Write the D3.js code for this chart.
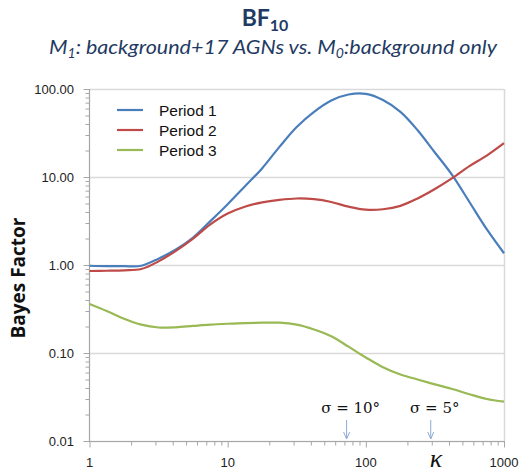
<!DOCTYPE html>
<html><head><meta charset="utf-8">
<script src="https://cdn.jsdelivr.net/npm/d3@7"></script>
<style>body{margin:0;background:#fff}svg{display:block}</style>
</head><body>
<svg id="c" width="523" height="473"></svg>
<script>
const kappa = [1, 1.33, 1.78, 2.37, 3.16, 4.22, 5.62, 7.5, 10, 13.3, 17.8, 23.7, 31.6, 42.2, 56.2, 75, 100, 133, 178, 237, 316, 422, 562, 750, 1000];
const period1 = [0.98, 0.97, 0.97, 0.98, 1.18, 1.5, 2.05, 3.15, 4.9, 7.8, 12.6, 22, 37, 55, 74, 86.5, 88, 75, 55, 34, 19, 10.5, 5.2, 2.55, 1.36];
const period2 = [0.855, 0.86, 0.87, 0.9, 1.1, 1.45, 2.0, 2.9, 3.85, 4.6, 5.15, 5.5, 5.7, 5.6, 5.2, 4.6, 4.25, 4.3, 4.7, 5.7, 7.3, 9.7, 13.3, 17.5, 24.2];
const period3 = [0.36, 0.3, 0.245, 0.21, 0.195, 0.196, 0.203, 0.21, 0.215, 0.219, 0.221, 0.221, 0.21, 0.185, 0.155, 0.118, 0.089, 0.069, 0.057, 0.05, 0.044, 0.039, 0.034, 0.030, 0.028];
const seriesNames = ["Period 1", "Period 2", "Period 3"];
const seriesColors = ["#4a7ebb", "#be4b48", "#98b954"];
const yTickValues = [0.01, 0.1, 1, 10, 100];
const yTickLabels = ["0.01", "0.10", "1.00", "10.00", "100.00"];
const xTickValues = [1, 10, 100, 1000];
const xTickLabels = ["1", "10", "100", "1000"];
const markers = [{k: 72.6, label: "σ = 10°"}, {k: 295, label: "σ = 5°"}];

const svg = d3.select("#c");
const L = 89.5, R = 504, T = 89, B = 441;
const x = d3.scaleLog().domain([1, 1000]).range([L, R]);
const y = d3.scaleLog().domain([0.01, 100]).range([B, T]);
const grid = "#d9d9d9", axisC = "#a6a6a6";

// gridlines
svg.append("g").selectAll("line").data(yTickValues).join("line")
  .attr("x1", L).attr("x2", R).attr("y1", d => y(d) + 0.5).attr("y2", d => y(d) + 0.5)
  .attr("stroke", grid).attr("stroke-width", 1.5);
svg.append("line").attr("x1", R + 0.5).attr("x2", R + 0.5).attr("y1", T).attr("y2", B)
  .attr("stroke", grid).attr("stroke-width", 1.5);

// y axis
const minorY = [];
for (let e = -2; e < 2; e++) for (let m = 1; m < 10; m++) minorY.push(m * Math.pow(10, e));
minorY.push(100);
const gy = svg.append("g").attr("transform", `translate(${L},0.5)`);
gy.selectAll("line").data(minorY).join("line")
  .attr("x1", d => yTickValues.includes(d) ? -6 : -4).attr("x2", 0)
  .attr("y1", d => y(d)).attr("y2", d => y(d)).attr("stroke", axisC);
svg.append("line").attr("x1", L).attr("x2", L).attr("y1", T).attr("y2", B + 1)
  .attr("stroke", axisC).attr("stroke-width", 1.2);
svg.append("g").selectAll("text").data(yTickValues).join("text")
  .attr("x", 74).attr("y", d => y(d) + 5).attr("text-anchor", "end")
  .attr("font-family", "Liberation Sans, Arial, sans-serif").attr("font-size", 13).attr("fill", "#222")
  .text((d, i) => yTickLabels[i]);

// x axis
const minorX = [];
for (let e = 0; e < 3; e++) for (let m = 1; m < 10; m++) minorX.push(m * Math.pow(10, e));
minorX.push(1000);
const gx = svg.append("g").attr("transform", `translate(0.5,${B + 0.5})`);
gx.selectAll("line").data(minorX).join("line")
  .attr("x1", d => x(d)).attr("x2", d => x(d)).attr("y1", 0)
  .attr("y2", d => xTickValues.includes(d) ? 6 : 4).attr("stroke", axisC);
svg.append("line").attr("x1", L).attr("x2", R + 1).attr("y1", B + 0.5).attr("y2", B + 0.5)
  .attr("stroke", axisC).attr("stroke-width", 1.2);
svg.append("g").selectAll("text").data(xTickValues).join("text")
  .attr("x", d => x(d)).attr("y", 467).attr("text-anchor", "middle")
  .attr("font-family", "Liberation Sans, Arial, sans-serif").attr("font-size", 13).attr("fill", "#222")
  .text((d, i) => xTickLabels[i]);

// lines
const line = d3.line().x(d => x(d[0])).y(d => y(d[1])).curve(d3.curveCatmullRom.alpha(0.5));
[period1, period2, period3].forEach((vals, i) => {
  svg.append("path").datum(kappa.map((k, j) => [k, vals[j]]))
    .attr("d", line).attr("fill", "none").attr("stroke", seriesColors[i]).attr("stroke-width", 2.2);
});

// legend
seriesNames.forEach((n, i) => {
  const ly = 110 + i * 20;
  svg.append("line").attr("x1", 117).attr("x2", 143).attr("y1", ly).attr("y2", ly)
    .attr("stroke", seriesColors[i]).attr("stroke-width", 2.2);
  svg.append("text").attr("x", 159).attr("y", ly + 5.5)
    .attr("font-family", "Liberation Sans, Arial, sans-serif").attr("font-size", 15.5).attr("fill", "#111").text(n);
});

// markers
const arrowC = "#8eaad6";
markers.forEach(m => {
  const mx = x(m.k);
  svg.append("line").attr("x1", mx).attr("x2", mx).attr("y1", 420).attr("y2", 439).attr("stroke", arrowC).attr("stroke-width", 1);
  svg.append("path").attr("d", `M${mx - 3},${432} L${mx},${439} L${mx + 3},${432}`)
    .attr("fill", "none").attr("stroke", arrowC).attr("stroke-width", 1);
  svg.append("text").attr("x", mx + 4).attr("y", 413).attr("text-anchor", "middle")
    .attr("font-family", "DejaVu Serif, Liberation Serif, serif").attr("font-size", 15).attr("fill", "#111")
    .text(m.label);
});

// axis titles
svg.append("text").attr("x", 436).attr("y", 467).attr("text-anchor", "middle")
  .attr("font-family", "Liberation Serif, serif").attr("font-style", "italic").attr("font-size", 26).attr("fill", "#111").text("κ");
svg.append("text").attr("transform", "translate(25,278) rotate(-90)").attr("text-anchor", "middle")
  .attr("font-family", "Open Sans, Lato, sans-serif").attr("font-weight", "bold").attr("font-size", 19).attr("fill", "#111")
  .text("Bayes Factor");

// title
const tColor = "#1f3b63";
const t = svg.append("text").attr("x", 265).attr("y", 26).attr("text-anchor", "middle")
  .attr("font-family", "Lato, Open Sans, sans-serif").attr("font-weight", "bold").attr("font-size", 23).attr("fill", tColor);
t.append("tspan").text("BF");
t.append("tspan").attr("dy", 5).attr("font-size", 16).text("10");
const s = svg.append("text").attr("x", 273).attr("y", 54).attr("text-anchor", "middle")
  .attr("font-family", "Lato, Open Sans, sans-serif").attr("font-style", "italic").attr("font-size", 20).attr("fill", tColor)
  .attr("textLength", 448).attr("lengthAdjust", "spacingAndGlyphs");
s.append("tspan").text("M");
s.append("tspan").attr("dy", 4).attr("font-size", 13).text("1");
s.append("tspan").attr("dy", -4).text(": background+17 AGNs vs. M");
s.append("tspan").attr("dy", 4).attr("font-size", 13).text("0");
s.append("tspan").attr("dy", -4).text(":background only");
</script>
</body></html>
